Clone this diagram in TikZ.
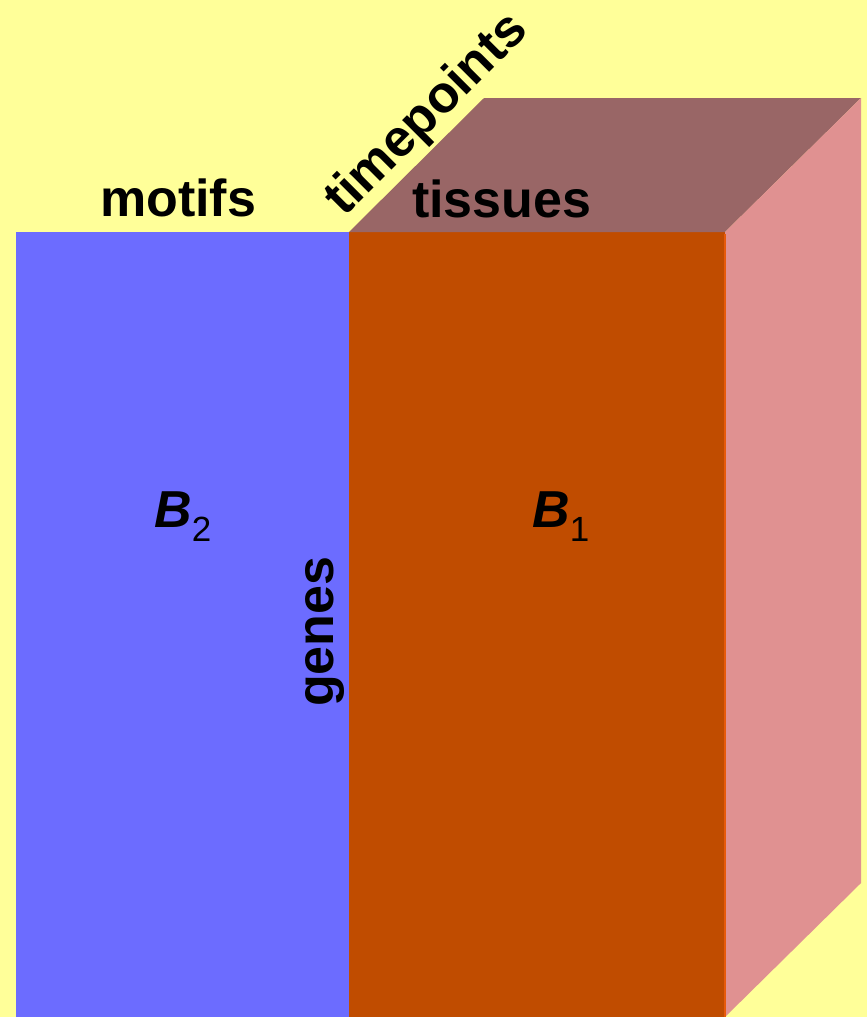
\documentclass[tikz,border=0pt]{standalone}
\usepackage{fontspec}
\setmainfont{Liberation Sans}
\definecolor{bgyellow}{HTML}{FFFF99}
\definecolor{faceblue}{HTML}{6C6CFF}
\definecolor{faceorange}{HTML}{C04C00}
\definecolor{edgeorange}{HTML}{E65A0A}
\definecolor{facetop}{HTML}{996666}
\definecolor{faceside}{HTML}{E09191}
\tikzset{
  lbl/.style={inner sep=0pt, anchor=base west, font=\fontsize{52}{52}\selectfont\bfseries},
  blbl/.style={inner sep=0pt, anchor=base west, font=\fontsize{52}{52}\selectfont},
}
\newcommand{\Bsub}[1]{{\bfseries\itshape B}\raisebox{-14pt}{\fontsize{35}{35}\selectfont #1}}
\begin{document}
\begin{tikzpicture}[x=1pt,y=-1pt]
\fill[bgyellow] (0,0) rectangle (867,1017);
\useasboundingbox (0,0) rectangle (867,1017);
% faces
\fill[faceblue] (16,232) rectangle (349,1017);
\fill[faceorange] (349,232) rectangle (725,1017);
\fill[facetop] (349,232) -- (484,98) -- (861,98) -- (725,232) -- cycle;
\fill[faceside] (725,232) -- (861,98) -- (861,883) -- (725,1017) -- cycle;
\draw[edgeorange, line width=2pt] (724.5,234) -- (724.5,1017);
% labels
\node[lbl] (motifs) at (100,216) {motifs};
\node[lbl] (tissues) at (412,217) {tissues};
\node[lbl, rotate=45] (timepoints) at (344,218) {timepoints};
\node[lbl, rotate=90] (genes) at (333,707) {genes};
\node[blbl] (b2) at (154,527) {\Bsub{2}};
\node[blbl] (b1) at (532,527) {\Bsub{1}};
\end{tikzpicture}
\end{document}
